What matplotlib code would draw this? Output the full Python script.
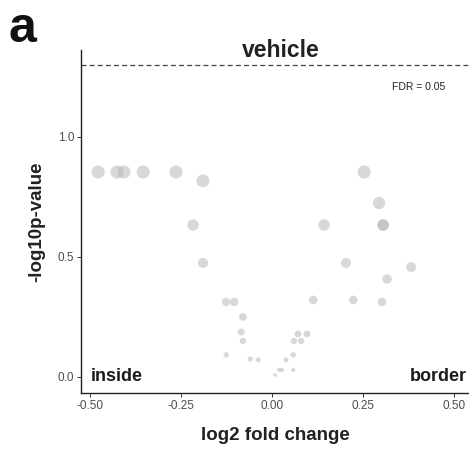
import numpy as np
import matplotlib.pyplot as plt

plt.rcParams['font.family'] = ['Liberation Sans', 'DejaVu Sans']

# log2 fold change and -log10 p-value per feature
log2fc = [-0.478, -0.426, -0.407, -0.354, -0.264, -0.190, -0.217, -0.190,
          0.253, 0.294, 0.305, 0.305, 0.143, 0.203, 0.382, 0.316,
          -0.126, -0.104, 0.113, 0.223, 0.302,
          -0.080, -0.085, -0.080, 0.071, 0.096, 0.060, 0.080,
          -0.126, -0.060, -0.038, 0.038, 0.058,
          0.019, 0.027, 0.058, 0.008]
neglog10p = [0.854, 0.854, 0.854, 0.854, 0.854, 0.817, 0.633, 0.475,
             0.854, 0.725, 0.633, 0.633, 0.633, 0.475, 0.458, 0.408,
             0.3125, 0.3125, 0.321, 0.321, 0.3125,
             0.25, 0.1875, 0.15, 0.179, 0.179, 0.15, 0.15,
             0.092, 0.075, 0.071, 0.071, 0.092,
             0.029, 0.029, 0.029, 0.008]
fdr = 0.05
xticks = [-0.50, -0.25, 0.00, 0.25, 0.50]
yticks = [0.0, 0.5, 1.0]

W, H = 469, 451
fig = plt.figure(figsize=(W / 100, H / 100), dpi=100)
ax = fig.add_axes([81 / W, 1 - 393 / H, 1 - 81 / W, (393 - 50) / H])

x = np.array(log2fc)
y = np.array(neglog10p)
# point area grows with significance
d_px = np.sqrt(12 + 190 * y)
sizes = (d_px * 72 / 100) ** 2
ax.scatter(x, y, s=sizes, color='#b3b3b3', alpha=0.5, linewidths=0, zorder=2)

# significance threshold
ax.axhline(-np.log10(fdr), color='#444444', lw=0.9, ls=(0, (4, 2.5)), zorder=1)
ax.text(0.475, 1.21, 'FDR = 0.05', fontsize=7.5, color='#222222',
        ha='right', va='center')

ax.text(-0.497, 0.0, 'inside', fontsize=13, fontweight='bold', color='#1a1a1a',
        ha='left', va='center')
ax.text(0.535, 0.0, 'border', fontsize=13, fontweight='bold', color='#1a1a1a',
        ha='right', va='center')

ax.set_xlim(-0.525, 0.541)
ax.set_ylim(-0.067, 1.3625)
ax.set_xticks(xticks)
ax.set_xticklabels(['%.2f' % v for v in xticks])
ax.set_yticks(yticks)
ax.set_yticklabels(['%.1f' % v for v in yticks])
ax.tick_params(direction='out', length=3, width=0.7, colors='#333333',
               labelsize=8.5, labelcolor='#4d4d4d', pad=2)

for side in ['top', 'right']:
    ax.spines[side].set_visible(False)
for side in ['left', 'bottom']:
    ax.spines[side].set_linewidth(1.0)
    ax.spines[side].set_color('#222222')

ax.set_xlabel('log2 fold change', fontsize=13.5, fontweight='bold',
              color='#222222', labelpad=11)
ax.set_ylabel('-log10p-value', fontsize=13.5, fontweight='bold',
              color='#222222', labelpad=9)

fig.text(281 / W, 1 - 57 / H, 'vehicle', fontsize=16.5, fontweight='bold',
         color='#222222', ha='center', va='baseline')
fig.text(8 / W, 1 - 42 / H, 'a', fontsize=36, fontweight='bold',
         color='#111111', ha='left', va='baseline')

fig.savefig('out.png', dpi=100)
